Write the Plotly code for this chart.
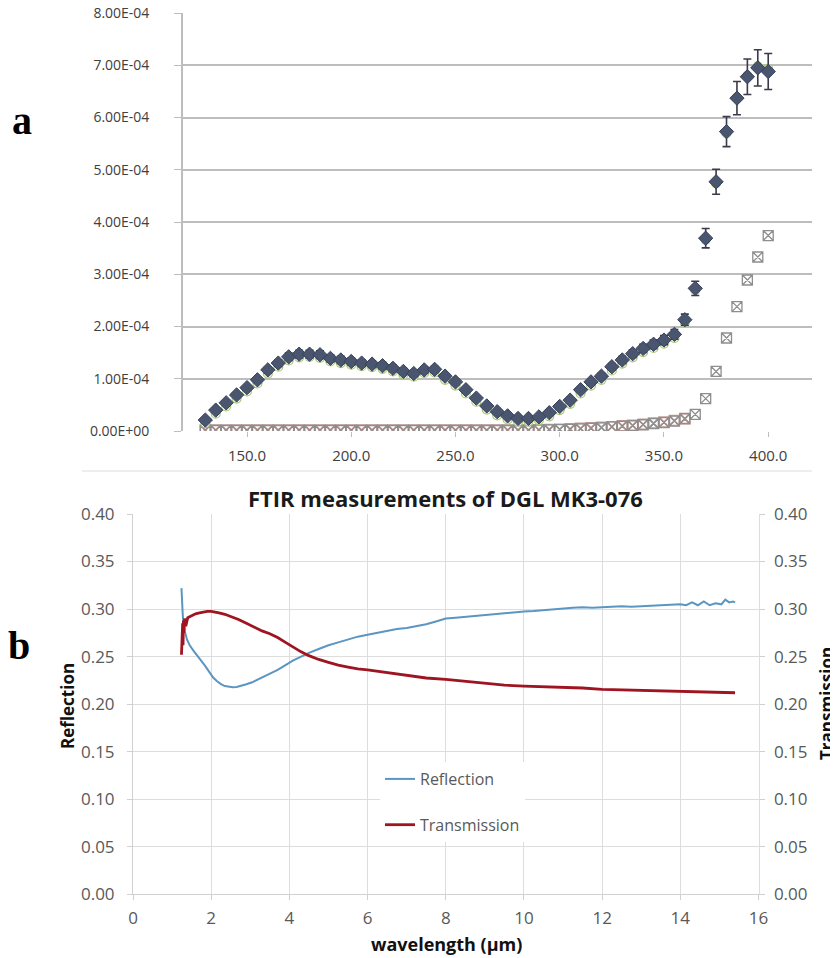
import plotly.graph_objects as go

# the page body keeps an 8px margin; the figure fills the rest of the 838x958 window
W, H = 830, 950
OFF = 8

# ---------------- panel a data ----------------
a_x = [130, 135, 140, 145, 150, 155, 160, 165, 170, 175, 180, 185, 190, 195, 200,
       205, 210, 215, 220, 225, 230, 235, 240, 245, 250, 255, 260, 265, 270, 275,
       280, 285, 290, 295, 300, 305, 310, 315, 320, 325, 330, 335, 340, 345, 350,
       355, 360, 365, 370, 375, 380, 385, 390, 395, 400]
# dark diamonds (with error bars), units of 1e-4
a_s1 = [0.21, 0.40, 0.54, 0.69, 0.83, 0.98, 1.17, 1.30, 1.42, 1.47, 1.47, 1.46, 1.39, 1.36, 1.33,
        1.30, 1.28, 1.25, 1.20, 1.14, 1.10, 1.17, 1.18, 1.05, 0.94, 0.79, 0.63, 0.48, 0.37, 0.29,
        0.24, 0.24, 0.27, 0.35, 0.47, 0.59, 0.79, 0.94, 1.05, 1.23, 1.36, 1.48, 1.58, 1.66, 1.74,
        1.85, 2.13, 2.73, 3.69, 4.77, 5.73, 6.37, 6.78, 6.95, 6.88]
# light green circles (slightly lower), units of 1e-4
a_s2 = [0.15, 0.33, 0.47, 0.62, 0.76, 0.91, 1.10, 1.23, 1.35, 1.41, 1.42, 1.40, 1.33, 1.30, 1.27,
        1.24, 1.22, 1.19, 1.14, 1.08, 1.04, 1.11, 1.12, 0.98, 0.87, 0.72, 0.56, 0.41, 0.30, 0.22,
        0.18, 0.18, 0.21, 0.28, 0.40, 0.52, 0.72, 0.87, 0.98, 1.16, 1.29, 1.41, 1.51, 1.59, 1.67,
        1.78, 2.08, 2.70, 3.66, 4.74, 5.70, 6.38, 6.80, 6.98, 6.93]
# pink squares near zero, units of 1e-4
a_s3_x = a_x[:47]
a_s3 = [0.02, 0.02, 0.02, 0.02, 0.02, 0.02, 0.02, 0.02, 0.02, 0.02, 0.02, 0.02, 0.02, 0.02, 0.02,
        0.02, 0.02, 0.02, 0.02, 0.02, 0.02, 0.02, 0.02, 0.02, 0.02, 0.02, 0.02, 0.02, 0.02, 0.02,
        0.02, 0.02, 0.02, 0.03, 0.03, 0.04, 0.05, 0.06, 0.07, 0.08, 0.10, 0.11, 0.13, 0.15, 0.17,
        0.20, 0.23]
# grey squares, rising tail, units of 1e-4
a_s4 = [0.01, 0.01, 0.01, 0.01, 0.01, 0.01, 0.01, 0.01, 0.01, 0.01, 0.01, 0.01, 0.01, 0.01, 0.01,
        0.01, 0.01, 0.01, 0.01, 0.01, 0.01, 0.01, 0.01, 0.01, 0.01, 0.01, 0.01, 0.01, 0.01, 0.01,
        0.01, 0.01, 0.02, 0.02, 0.03, 0.03, 0.04, 0.05, 0.06, 0.08, 0.09, 0.10, 0.12, 0.14, 0.16,
        0.19, 0.24, 0.32, 0.62, 1.14, 1.78, 2.38, 2.89, 3.33, 3.74]
a_scale = 1e-4
a_xticks = [150, 200, 250, 300, 350, 400]
a_xticktext = ["150.0", "200.0", "250.0", "300.0", "350.0", "400.0"]
a_yticks = [0, 1e-4, 2e-4, 3e-4, 4e-4, 5e-4, 6e-4, 7e-4, 8e-4]
a_yticktext = ["0.00E+00", "1.00E-04", "2.00E-04", "3.00E-04", "4.00E-04",
               "5.00E-04", "6.00E-04", "7.00E-04", "8.00E-04"]

# ---------------- panel b data ----------------
refl_x = [1.24, 1.25, 1.26, 1.27, 1.28, 1.30, 1.33, 1.38, 1.45, 1.55, 1.65, 1.75, 1.85, 1.95,
          2.05, 2.15, 2.25, 2.35, 2.45, 2.55, 2.65, 2.75, 2.9, 3.05, 3.2, 3.35, 3.5, 3.7, 3.9,
          4.1, 4.3, 4.5, 4.75, 5.0, 5.25, 5.5, 5.75, 6.0, 6.25, 6.5, 6.75, 7.0, 7.25, 7.5, 7.75,
          8.0, 8.25, 8.5, 8.75, 9.0, 9.25, 9.5, 9.75, 10.0, 10.25, 10.5, 10.75, 11.0, 11.25,
          11.5, 11.75, 12.0, 12.25, 12.5, 12.75, 13.0, 13.25, 13.5, 13.75, 14.0, 14.15, 14.3,
          14.45, 14.6, 14.75, 14.9, 15.05, 15.15, 15.25, 15.35, 15.4]
refl_y = [0.322, 0.300, 0.312, 0.296, 0.290, 0.284, 0.276, 0.268, 0.262, 0.256, 0.251, 0.246,
          0.240, 0.234, 0.228, 0.224, 0.221, 0.219, 0.218, 0.2178, 0.218, 0.219, 0.221, 0.223,
          0.226, 0.229, 0.232, 0.236, 0.241, 0.246, 0.250, 0.254, 0.258, 0.262, 0.265, 0.268,
          0.271, 0.273, 0.275, 0.277, 0.279, 0.280, 0.282, 0.284, 0.287, 0.290, 0.291, 0.292,
          0.293, 0.294, 0.295, 0.296, 0.297, 0.2975, 0.298, 0.299, 0.300, 0.301, 0.3015, 0.302,
          0.3015, 0.302, 0.3025, 0.303, 0.3025, 0.303, 0.3035, 0.304, 0.304, 0.305, 0.304,
          0.307, 0.304, 0.308, 0.304, 0.306, 0.305, 0.310, 0.307, 0.308, 0.307]
trans_x = [1.24, 1.25, 1.26, 1.27, 1.28, 1.29, 1.30, 1.32, 1.35, 1.40, 1.50, 1.60, 1.70, 1.80,
           1.90, 2.0, 2.1, 2.2, 2.35, 2.5, 2.7, 2.9, 3.1, 3.3, 3.5, 3.7, 3.9, 4.1, 4.3, 4.5,
           4.75, 5.0, 5.25, 5.5, 5.75, 6.0, 6.5, 7.0, 7.5, 8.0, 8.5, 9.0, 9.5, 10.0, 10.5, 11.0,
           11.5, 12.0, 12.5, 13.0, 13.5, 14.0, 14.5, 15.0, 15.4]
trans_y = [0.252, 0.270, 0.255, 0.285, 0.262, 0.288, 0.275, 0.290, 0.282, 0.291, 0.293, 0.295,
           0.296, 0.297, 0.2975, 0.2975, 0.297, 0.296, 0.2945, 0.2925, 0.289, 0.285, 0.281,
           0.277, 0.274, 0.270, 0.265, 0.260, 0.255, 0.251, 0.247, 0.244, 0.241, 0.239, 0.237,
           0.236, 0.233, 0.230, 0.2275, 0.226, 0.224, 0.222, 0.220, 0.219, 0.2185, 0.218,
           0.217, 0.2155, 0.215, 0.2145, 0.214, 0.2135, 0.213, 0.2125, 0.212]
b_title = "FTIR measurements of DGL MK3-076"


def px(x):
    return (x - OFF) / W


def py(y):
    return 1 - (y - OFF) / H


fig = go.Figure()

# panel a traces
fig.add_trace(go.Scatter(x=a_s3_x, y=[v * a_scale for v in a_s3], mode="markers", xaxis="x", yaxis="y",
                         marker=dict(symbol="square-x-open", size=10, color="#C59A94", line=dict(width=1.6)),
                         showlegend=False))
fig.add_trace(go.Scatter(x=a_x, y=[v * a_scale for v in a_s4], mode="markers", xaxis="x", yaxis="y",
                         marker=dict(symbol="square-x-open", size=10, color="#8E8E8E", line=dict(width=1.3)),
                         showlegend=False))
fig.add_trace(go.Scatter(x=a_x, y=[v * a_scale for v in a_s2], mode="markers", xaxis="x", yaxis="y",
                         marker=dict(symbol="circle", size=9, color="#EEF4E2",
                                     line=dict(color="#A9C878", width=1.2)),
                         showlegend=False))
fig.add_trace(go.Scatter(x=a_x, y=[v * a_scale for v in a_s1], mode="markers", xaxis="x", yaxis="y",
                         marker=dict(symbol="diamond", size=11, color="#4A5570",
                                     line=dict(color="#36415A", width=1)),
                         error_y=dict(type="percent", value=5, color="#3A3A48", thickness=1.6, width=4),
                         showlegend=False))

# panel b traces
fig.add_trace(go.Scatter(x=refl_x, y=refl_y, mode="lines", name="Reflection", xaxis="x2", yaxis="y2",
                         line=dict(color="#5B96C2", width=2), legendgroup="r"))
fig.add_trace(go.Scatter(x=trans_x, y=trans_y, mode="lines", name="Transmission", xaxis="x2", yaxis="y3",
                         line=dict(color="#9E1420", width=2.8), legendgroup="t"))

tickfont_b = dict(family="Open Sans", size=17, color="#595959")

fig.update_layout(
    width=W, height=H, margin=dict(l=0, r=0, t=0, b=0, autoexpand=False),
    paper_bgcolor="white", plot_bgcolor="white",
    xaxis=dict(domain=[px(183), px(812)], range=[119.3, 421], anchor="y", automargin=False,
               tickvals=a_xticks, ticktext=a_xticktext, showgrid=False, zeroline=False,
               showline=False, ticks="outside", ticklen=5, tickcolor="#BDBDBD", ticklabelstandoff=6,
               tickfont=dict(family="Open Sans", size=15, color="#404040")),
    yaxis=dict(domain=[py(431), py(13)], range=[0, 8e-4], anchor="x", automargin=False,
               tickvals=a_yticks, ticktext=a_yticktext, showgrid=True, gridcolor="#BDBDBD",
               gridwidth=1.6, zeroline=False, showline=True, linecolor="#BDBDBD", linewidth=1.6,
               ticks="outside", ticklen=7, tickcolor="#BDBDBD", ticklabelstandoff=22,
               ticklabeloverflow="allow",
               tickfont=dict(family="Open Sans", size=14, color="#404040")),
    xaxis2=dict(domain=[px(133), px(758.5)], range=[0, 16], dtick=2, anchor="y2", automargin=False,
                showgrid=True, gridcolor="#DDDDDD", gridwidth=1, zeroline=False,
                showline=True, linecolor="#D0D0D0", ticks="outside", ticklen=5, tickcolor="#D0D0D0",
                ticklabelstandoff=3, tickfont=tickfont_b),
    yaxis2=dict(domain=[py(894.3), py(514)], range=[0, 0.4], dtick=0.05, tickformat=".2f",
                anchor="x2", automargin=False, showgrid=True, gridcolor="#DDDDDD", gridwidth=1,
                zeroline=False, showline=True, linecolor="#D0D0D0", ticks="outside", ticklen=5,
                tickcolor="#D0D0D0", ticklabelstandoff=9, tickfont=tickfont_b),
    yaxis3=dict(overlaying="y2", side="right", anchor="x2", range=[0, 0.4], dtick=0.05,
                automargin=False, tickformat=".2f", showgrid=False, zeroline=False, showline=True,
                linecolor="#DDDDDD", ticks="outside", ticklen=5, tickcolor="#D0D0D0",
                ticklabelstandoff=6, tickfont=tickfont_b),
    legend=dict(x=px(380), y=py(762), xanchor="left", yanchor="top", bgcolor="white",
                font=dict(family="Open Sans", size=16, color="#595959"),
                tracegroupgap=22, traceorder="grouped", itemwidth=30),
    shapes=[dict(type="line", xref="paper", yref="paper", x0=px(82), x1=px(812),
                 y0=py(471), y1=py(471), line=dict(color="#DDDDDD", width=1))],
    annotations=[
        dict(text="<b>a</b>", x=px(22), y=py(120), xref="paper", yref="paper", showarrow=False,
             font=dict(family="Liberation Serif", size=40, color="black"), xanchor="center", yanchor="middle"),
        dict(text="<b>b</b>", x=px(19), y=py(645), xref="paper", yref="paper", showarrow=False,
             font=dict(family="Liberation Serif", size=40, color="black"), xanchor="center", yanchor="middle"),
        dict(text="<b>" + b_title + "</b>", x=px(445), y=py(498), xref="paper", yref="paper",
             showarrow=False, font=dict(family="Open Sans", size=22, color="#1a1a1a"),
             xanchor="center", yanchor="middle"),
        dict(text="<b>Reflection</b>", x=px(67), y=py(706), xref="paper", yref="paper",
             showarrow=False, textangle=-90, font=dict(family="Open Sans", size=17, color="#111111"),
             xanchor="center", yanchor="middle"),
        dict(text="<b>Transmission</b>", x=px(826), y=py(704), xref="paper", yref="paper",
             showarrow=False, textangle=-90, font=dict(family="Open Sans", size=17, color="#111111"),
             xanchor="center", yanchor="middle"),
        dict(text="<b>wavelength (µm)</b>", x=px(446), y=py(944), xref="paper", yref="paper",
             showarrow=False, font=dict(family="Open Sans", size=18, color="#111111"),
             xanchor="center", yanchor="middle"),
    ],
)

fig.write_html("out.html")
